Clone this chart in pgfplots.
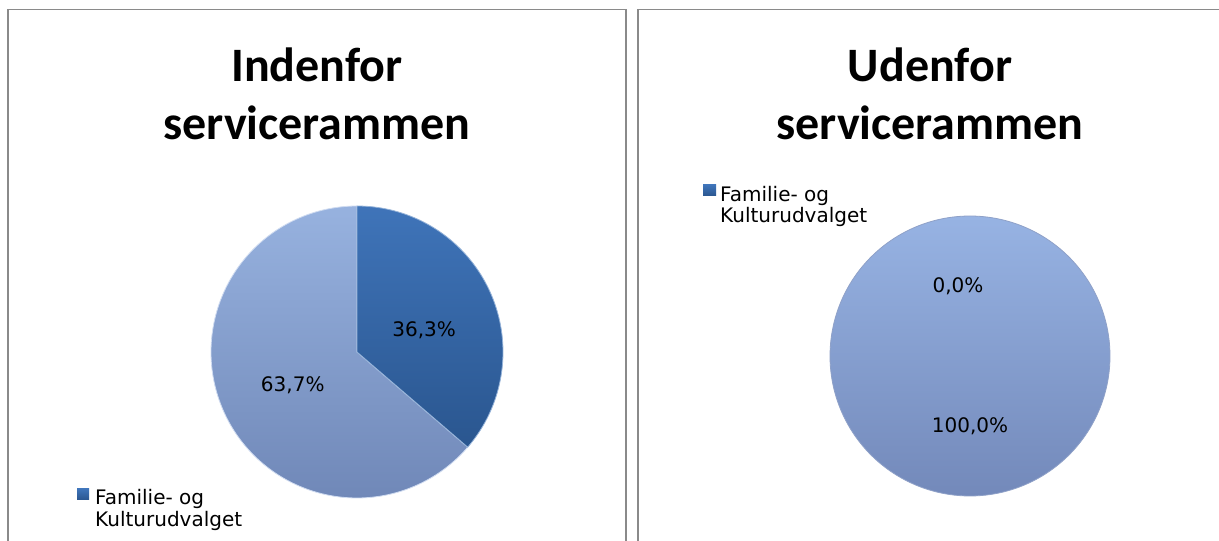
\documentclass[border=0pt]{standalone}
\usepackage{pgfplots}
\pgfplotsset{compat=1.18}
\usepackage{fontspec}
\setmainfont{DejaVu Sans}
\newfontfamily\titlefont{Carlito}
\definecolor{darkA}{HTML}{3F74B9}
\definecolor{darkB}{HTML}{2A568F}
\definecolor{lightA}{HTML}{97B2DF}
\definecolor{lightB}{HTML}{7088B8}
\definecolor{rightA}{HTML}{97B3E3}
\definecolor{rightB}{HTML}{7389BA}
\definecolor{frame}{HTML}{8A8A8A}
% data (percent shares)
\def\leftFK{36.3}\def\leftOther{63.7}
\def\rightFK{0.0}\def\rightOther{100.0}
\pgfmathsetmacro\leftEnd{90-3.6*\leftFK}
\pgfmathsetmacro\rightEnd{90-3.6*\rightFK}
\begin{document}
\begin{tikzpicture}[x=1pt,y=1pt]
\useasboundingbox (0,0) rectangle (1219,541);
\clip (0,0) rectangle (1219,541);
\fill[white] (0,0) rectangle (1219,541);
\draw[frame, line width=1.6pt] (8,-10) -- (8,531.5) -- (626,531.5) -- (626,-10);
\draw[frame, line width=1.6pt] (638,-10) -- (638,531.5) -- (1222,531.5) -- (1222,-10);
% titles
\node[font=\titlefont\bfseries\fontsize{48}{57.5}\selectfont, align=center] at (317,447) {Indenfor\\servicerammen};
\node[font=\titlefont\bfseries\fontsize{48}{57.5}\selectfont, align=center] at (930,447) {Udenfor\\servicerammen};
% left pie
\begin{axis}[at={(357pt,189pt)}, anchor=center, width=292pt, height=292pt, scale only axis,
  xmin=-1, xmax=1, ymin=-1, ymax=1, hide axis, clip=false]
\addplot[draw=white!55!lightA, line width=0.8pt, top color=lightA, bottom color=lightB,
  domain=-270:\leftEnd, samples=150, variable=\t] ({cos(\t)},{sin(\t)}) -- (0,0) -- cycle;
\addplot[draw=white!45!darkA, line width=0.8pt, top color=darkA, bottom color=darkB,
  domain=\leftEnd:90, samples=80, variable=\t] ({cos(\t)},{sin(\t)}) -- (0,0) -- cycle;
\node[font=\fontsize{20}{24}\selectfont] at (0.46,0.15) {36,3\%};
\node[font=\fontsize{20}{24}\selectfont] at (-0.44,-0.23) {63,7\%};
\end{axis}
% right pie
\begin{axis}[at={(970pt,185pt)}, anchor=center, width=280pt, height=280pt, scale only axis,
  xmin=-1, xmax=1, ymin=-1, ymax=1, hide axis, clip=false]
\addplot[draw=none, top color=rightA, bottom color=rightB,
  domain=-270:\rightEnd, samples=200, variable=\t] ({cos(\t)},{sin(\t)}) -- (0,0) -- cycle;
\addplot[draw=rightB!80!white, line width=0.8pt, fill=none,
  domain=-270:\rightEnd, samples=200, variable=\t] ({cos(\t)},{sin(\t)});
\node[font=\fontsize{20}{24}\selectfont] at (-0.086,0.5) {0,0\%};
\node[font=\fontsize{20}{24}\selectfont] at (0,-0.5) {100,0\%};
\end{axis}
% legends
\shade[top color=darkA, bottom color=darkB] (77,41) rectangle (89,52);
\node[anchor=base west, inner sep=0pt, font=\fontsize{20}{24}\selectfont] at (95,36) {Familie- og};
\node[anchor=base west, inner sep=0pt, font=\fontsize{20}{24}\selectfont] at (95,14) {Kulturudvalget};
\shade[top color=darkA, bottom color=darkB] (703,345) rectangle (716,356);
\node[anchor=base west, inner sep=0pt, font=\fontsize{20}{24}\selectfont] at (720,339) {Familie- og};
\node[anchor=base west, inner sep=0pt, font=\fontsize{20}{24}\selectfont] at (720,318) {Kulturudvalget};
\end{tikzpicture}
\end{document}
